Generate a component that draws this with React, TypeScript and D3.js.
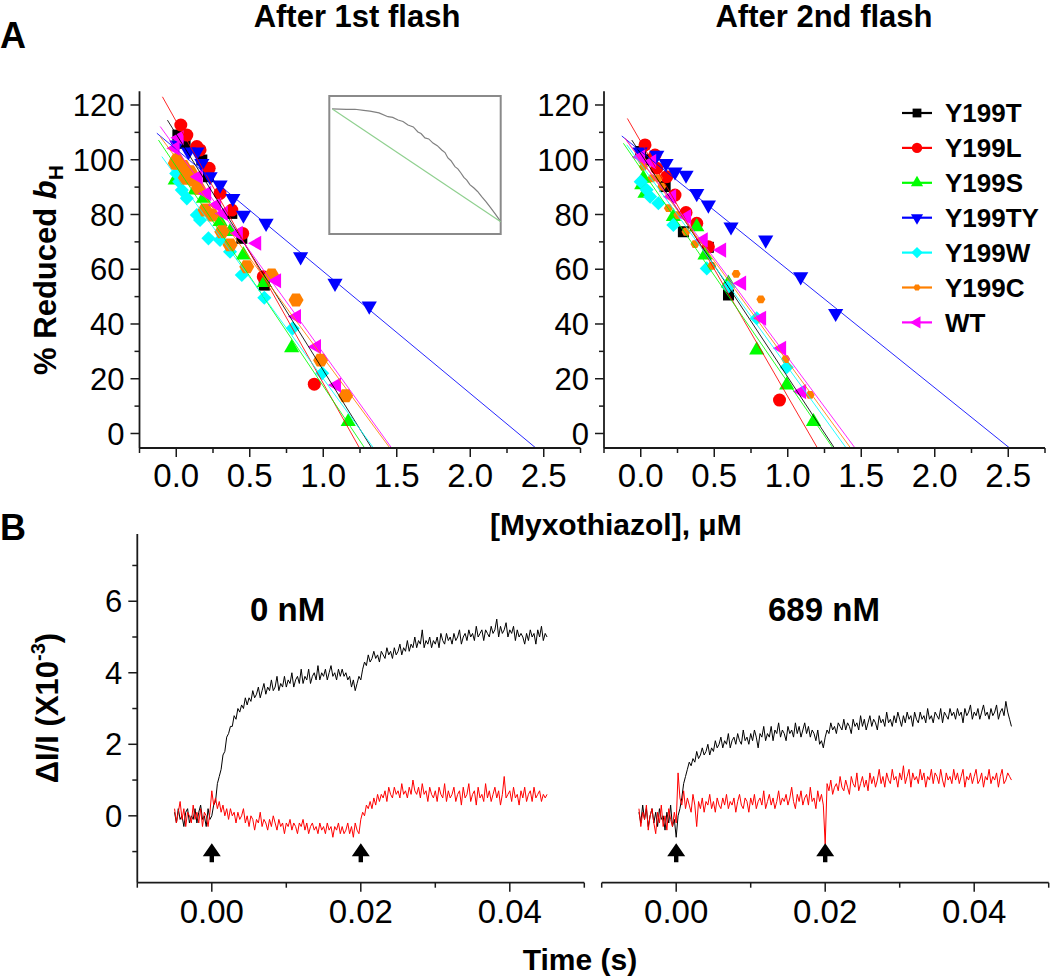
import React from 'react';
import * as d3 from 'd3';

const FONT = "Arial, 'Liberation Sans', Helvetica, sans-serif";

// ---------- Panel A : series ----------
const seriesNames = ['Y199T', 'Y199L', 'Y199S', 'Y199TY', 'Y199W', 'Y199C', 'WT'];
const seriesColors = ['#000000', '#ff0000', '#00ff00', '#0000ff', '#00ffff', '#ff8000', '#ff00ff'];
const seriesShapes = ['square', 'circle', 'triUp', 'triDown', 'diamond', 'hex', 'triLeft'];

// After 1st flash  [myxothiazol µM, % reduced bH]
const flash1_Y199T = [[0.011, 109.0], [0.06, 106.0], [0.174, 99.9], [0.219, 93.8], [0.378, 80.4], [0.446, 71.3], [0.599, 54.2]];
const flash1_Y199L = [[0.031, 112.7], [0.072, 109.0], [0.14, 104.8], [0.162, 103.6], [0.224, 96.9], [0.298, 87.7], [0.378, 81.6], [0.452, 73.1], [0.592, 57.3], [0.939, 18.0]];
const flash1_Y199S = [[-0.007, 92.6], [0.0, 100], [0.03, 97], [0.128, 88.9], [0.185, 85.9], [0.298, 77.4], [0.366, 73.7], [0.457, 65.2], [0.599, 55.1], [0.785, 31.3], [1.17, 4.3]];
const flash1_Y199TY = [[0.004, 105.4], [0.083, 102.9], [0.14, 102.9], [0.174, 98.7], [0.23, 93.8], [0.298, 90.8], [0.385, 85.9], [0.457, 79.8], [0.611, 76.8], [0.846, 64.6], [1.08, 54.9], [1.313, 46.6]];
const flash1_Y199W = [[0.0, 95], [0.02, 92], [0.038, 88.9], [0.072, 85.9], [0.14, 79.8], [0.162, 78.0], [0.219, 71.3], [0.298, 70.7], [0.366, 66.4], [0.446, 57.9], [0.599, 49.6], [0.792, 38.4], [0.993, 22.0]];
const flash1_Y199C = [[0.004, 99.9], [-0.007, 98.7], [0.049, 97.5], [0.094, 95.6], [0.06, 93.2], [0.117, 92.6], [0.151, 89.6], [0.196, 81.6], [0.242, 79.8], [0.31, 73.7], [0.366, 68.9], [0.48, 60.9], [0.649, 57.9], [0.815, 48.8], [0.982, 26.8], [1.152, 13.8]];
const flash1_WT = [[-0.007, 104.2], [0.02, 108], [0.15, 93.8], [0.208, 87.7], [0.276, 83.5], [0.321, 80.4], [0.423, 73.1], [0.548, 69.5], [0.683, 55.8], [0.819, 42.7], [0.955, 31.7], [1.091, 17.7]];

// After 2nd flash
const flash2_Y199T = [[0.0, 103], [0.05, 100], [0.166, 90.2], [0.29, 73.7], [0.46, 68.0], [0.597, 50.6]];
const flash2_Y199L = [[0.029, 105.4], [0.097, 101.7], [0.109, 96.9], [0.177, 93.8], [0.233, 87.1], [0.308, 80.7], [0.381, 76.8], [0.46, 68.2], [0.944, 12.2]];
const flash2_Y199S = [[0.018, 93.2], [0.007, 90.8], [0.029, 87.7], [0.222, 79.2], [0.381, 75.5], [0.437, 65.2], [0.596, 54.9], [0.789, 30.5], [0.993, 17.7], [1.175, 4.3]];
const flash2_Y199TY = [[-0.005, 102.9], [0.109, 101.7], [0.172, 98.7], [0.233, 95.6], [0.308, 94.4], [0.381, 87.7], [0.46, 83.5], [0.614, 75.5], [0.85, 70.7], [1.088, 57.3], [1.326, 43.9]];
const flash2_Y199W = [[0.0, 92], [0.04, 89], [0.064, 86.5], [0.12, 84.1], [0.222, 76.2], [0.449, 60.3], [0.596, 53.6], [0.789, 42.1], [0.993, 24.2]];
const flash2_Y199C = [[0.007, 99.9], [0.018, 97.5], [0.075, 93.2], [0.12, 93.2], [0.143, 90.2], [0.188, 82.3], [0.252, 79.8], [0.308, 73.7], [0.369, 69.2], [0.483, 61.2], [0.649, 58.3], [0.817, 49.0], [0.986, 27.2], [1.152, 14.1]];
const flash2_WT = [[0.0, 101], [0.075, 99.3], [0.211, 86.5], [0.313, 79.2], [0.426, 70.7], [0.551, 67.0], [0.687, 54.9], [0.823, 42.1], [0.959, 31.1], [1.095, 15.3]];

// linear fits: intercept, slope, first x
const fit1Intercept = [109.3, 114.0, 97.5, 103.8, 93.9, 100.5, 104.0];
const fit1Slope = [-86.2, -95.7, -80.2, -44.6, -73.9, -72.8, -74.6];
const fit1Start = [-0.06, -0.094, -0.121, -0.132, -0.098, -0.109, -0.109];
const fit2Intercept = [102.2, 106.6, 96.8, 103.1, 98.4, 99.9, 100.1];
const fit2Slope = [-81.6, -93.1, -78.1, -43.2, -74.2, -73.7, -72.3];
const fit2Start = [-0.061, -0.091, -0.118, -0.129, -0.095, -0.107, -0.107];

// inset (schematic, normalised units)
const insetCurveX = [0.016, 0.1, 0.15, 0.2, 0.237, 0.29, 0.342, 0.37, 0.401, 0.43, 0.459, 0.49, 0.517, 0.535, 0.558, 0.58, 0.605, 0.63, 0.656, 0.675, 0.692, 0.71, 0.733, 0.75, 0.768, 0.785, 0.802, 0.82, 0.844, 0.865, 0.889, 0.915, 0.943, 0.97, 1.0];
const insetCurveY = [0.906, 0.903, 0.904, 0.896, 0.891, 0.878, 0.85, 0.845, 0.826, 0.815, 0.79, 0.776, 0.739, 0.728, 0.696, 0.689, 0.659, 0.64, 0.609, 0.59, 0.551, 0.531, 0.488, 0.472, 0.442, 0.41, 0.391, 0.358, 0.333, 0.308, 0.27, 0.233, 0.188, 0.142, 0.089];
const insetLineX = [0.02, 1.0];
const insetLineY = [0.904, 0.089];

// axis ticks
const aXDomain = [-0.25, 2.75];
const aYDomain = [-5.3, 125];
const aMajorX = [0, 0.5, 1, 1.5, 2, 2.5];
const aMinorX = [-0.25, 0.25, 0.75, 1.25, 1.75, 2.25, 2.75];
const aMajorY = [0, 20, 40, 60, 80, 100, 120];
const aMinorY = [10, 30, 50, 70, 90, 110];

// ---------- Panel B : kinetic traces (ΔI/I ×10^-3), sampled from t = -0.005 s every 0.25 ms ----------
const tStart = -0.005;
const tStep = 0.00025;
const trace0nM_black = [
  0.1, -0.2, 0.2, -0.1, 0.0, -0.3, 0.1, 0.2, -0.2, 0.0,
  -0.1, 0.2, -0.2, 0.1, 0.3, -0.1, 0.0, -0.3, 0.2, -0.1,
  0.0, 0.3, 0.4, 0.9, 1.1, 1.3, 1.7, 1.8, 2.2, 2.3,
  2.5, 2.5, 2.8, 2.7, 3.0, 2.9, 3.1, 3.0, 3.3, 3.1,
  3.3, 3.2, 3.5, 3.3, 3.4, 3.6, 3.3, 3.5, 3.7, 3.4,
  3.6, 3.5, 3.8, 3.5, 3.6, 3.9, 3.5, 3.7, 3.6, 3.9,
  3.6, 3.8, 3.7, 4.0, 3.6, 3.8, 3.9, 3.7, 4.1, 3.7,
  3.9, 3.8, 4.1, 3.7, 3.9, 4.0, 3.8, 4.2, 3.8, 4.0,
  3.9, 4.1, 3.8, 4.0, 4.2, 3.9, 4.0, 3.8, 4.1, 3.9,
  4.1, 3.9, 4.0, 3.8, 3.9, 3.6, 3.8, 3.5, 3.7, 3.9,
  3.8, 4.1, 4.3, 4.2, 4.5, 4.3, 4.4, 4.6, 4.4, 4.5,
  4.3, 4.6, 4.5, 4.4, 4.7, 4.5, 4.6, 4.4, 4.7, 4.5,
  4.6, 4.8, 4.5, 4.7, 4.6, 4.9, 4.6, 4.8, 4.7, 5.0,
  4.7, 4.9, 4.8, 5.2, 4.7, 4.9, 4.8, 5.0, 4.7, 4.9,
  4.8, 5.0, 4.7, 5.1, 4.9, 4.8, 5.1, 4.9, 5.0, 4.8,
  5.1, 4.9, 5.0, 5.2, 4.8, 5.0, 5.1, 4.9, 5.2, 5.0,
  5.1, 4.9, 5.3, 5.0, 5.1, 5.2, 4.9, 5.2, 5.1, 5.0,
  5.3, 5.1, 5.2, 5.5, 5.0, 5.3, 5.1, 5.2, 5.4, 5.0,
  5.2, 5.1, 5.3, 4.9, 5.2, 5.0, 5.1, 5.0, 4.8, 5.1,
  4.9, 5.2, 5.0, 5.1, 4.8, 5.2, 5.0, 5.3, 4.9, 5.1,
  5.0,
];
const trace0nM_red = [
  0.2, -0.2, 0.1, 0.4, -0.1, 0.2, -0.3, 0.1, 0.0, -0.2,
  0.3, -0.1, 0.1, -0.2, 0.2, -0.3, 0.1, 0.0, -0.3, 0.1,
  0.7, 0.3, 0.5, 0.2, 0.4, 0.1, 0.3, 0.0, 0.2, -0.1,
  0.2, 0.0, 0.1, -0.2, 0.1, -0.1, 0.0, 0.2, -0.2, 0.0,
  -0.3, 0.0, -0.1, -0.4, -0.1, -0.2, 0.1, -0.3, -0.1, -0.2,
  -0.4, -0.1, -0.3, 0.0, -0.2, -0.4, -0.1, -0.3, -0.2, -0.5,
  -0.2, -0.3, -0.1, -0.4, -0.2, -0.3, -0.5, -0.2, -0.3, -0.1,
  -0.4, -0.2, -0.5, -0.3, -0.2, -0.4, -0.3, -0.5, -0.2, -0.4,
  -0.3, -0.5, -0.2, -0.4, -0.3, -0.6, -0.3, -0.4, -0.2, -0.5,
  -0.3, -0.5, -0.4, -0.2, -0.5, -0.3, -0.6, -0.2, -0.4, -0.5,
  -0.1, 0.1, 0.0, 0.3, 0.2, 0.4, 0.2, 0.5, 0.3, 0.6,
  0.4, 0.6, 0.5, 0.7, 0.4, 0.8, 0.6, 0.5, 0.8, 0.6,
  0.7, 0.5, 0.9, 0.6, 0.7, 0.5, 0.8, 0.6, 1.0, 0.7,
  0.6, 0.8, 0.5, 0.9, 0.6, 0.7, 0.4, 0.8, 0.6, 0.5,
  0.7, 0.4, 0.8, 0.6, 0.5, 0.9, 0.4, 0.7, 0.5, 0.6,
  0.8, 0.4, 0.6, 0.7, 0.3, 0.8, 0.5, 0.6, 0.9, 0.4,
  0.6, 0.7, 0.3, 0.8, 0.5, 0.6, 0.4, 0.9, 0.5, 0.7,
  0.4, 0.6, 0.8, 0.5, 0.7, 0.3, 0.6, 1.1, 0.5, 0.6,
  0.7, 0.4, 0.8, 0.5, 0.6, 0.3, 0.7, 0.5, 0.8, 0.4,
  0.6, 0.7, 0.4, 0.8, 0.5, 0.6, 0.7, 0.4, 0.6, 0.5,
  0.6,
];
const trace689nM_black = [
  0.1, -0.2, 0.3, -0.1, 0.2, -0.3, 0.0, 0.2, -0.2, 0.1,
  -0.3, 0.2, -0.1, 0.0, -0.4, 0.1, -0.2, 0.3, -0.3, -0.1,
  -0.6, 0.0, 0.2, 0.5, 0.9, 1.1, 1.3, 1.5, 1.4, 1.6,
  1.5, 1.8, 1.6, 1.7, 1.9, 1.7, 1.8, 2.0, 1.7, 1.9,
  1.8, 2.1, 1.9, 2.0, 2.2, 1.9, 2.1, 2.0, 2.3, 1.9,
  2.1, 2.2, 2.0, 2.3, 2.1, 2.0, 2.4, 2.1, 2.2, 2.0,
  2.3, 2.1, 2.4, 2.2, 1.9, 2.3, 2.2, 2.5, 2.1, 2.3,
  2.2, 2.5, 2.1, 2.4, 2.3, 2.6, 2.2, 2.4, 2.3, 2.1,
  2.5, 2.3, 2.4, 2.2, 2.6, 2.3, 2.5, 2.2, 2.4, 2.6,
  2.3, 2.5, 2.2, 2.4, 2.3, 2.1, 2.4, 2.0, 2.1, 1.9,
  2.2, 2.4, 2.3, 2.6, 2.4, 2.5, 2.3, 2.6, 2.5, 2.4,
  2.7, 2.4, 2.6, 2.5, 2.3, 2.7, 2.5, 2.6, 2.4, 2.8,
  2.5, 2.7, 2.4, 2.6, 2.8, 2.5, 2.7, 2.6, 2.4, 2.8,
  2.6, 2.7, 2.5, 2.9, 2.6, 2.7, 2.5, 2.8, 2.6, 2.9,
  2.7, 2.5, 2.8, 2.6, 2.9, 2.7, 2.8, 2.5, 2.9, 2.7,
  2.6, 2.9, 2.7, 2.8, 2.6, 3.0, 2.7, 2.8, 2.6, 2.9,
  2.8, 2.7, 3.0, 2.6, 2.9, 2.8, 2.7, 3.0, 2.8, 2.9,
  2.7, 3.0, 2.8, 2.9, 2.6, 3.0, 2.8, 2.9, 3.1, 2.7,
  2.9, 2.8, 3.0, 2.7, 2.9, 3.1, 2.8, 2.9, 2.7, 3.0,
  2.8, 2.9, 3.1, 2.7, 2.9, 3.0, 2.8, 3.2, 2.9, 2.7,
  2.5,
];
const trace689nM_red = [
  0.2, -0.3, 0.1, -0.1, 0.3, -0.4, 0.0, 0.2, -0.2, -0.5,
  0.1, -0.2, 0.3, -0.3, 0.0, -0.4, 0.2, -0.1, -0.3, 0.1,
  -0.2, 1.2, 0.5, 0.3, 0.7, 0.2, 0.5, 0.3, 0.1, 0.6,
  0.3, -0.3, 0.4, 0.2, 0.5, 0.1, 0.4, 0.3, 0.6, 0.2,
  0.4, 0.1, 0.5, 0.3, 0.2, 0.5, 0.3, 0.6, 0.2, 0.4,
  0.3, 0.5, 0.1, 0.4, 0.6, 0.3, 0.2, 0.5, 0.4, 0.1,
  0.5, 0.3, 0.6, 0.2, 0.4, 0.5, 0.3, 0.7, 0.2, 0.4,
  0.6, 0.3, 0.5, 0.2, 0.4, 0.7, 0.3, 0.5, 0.4, 0.6,
  0.3, 0.5, 0.8, 0.4, 0.2, 0.6, 0.4, 0.7, 0.3, 0.5,
  0.6, 0.3, 0.8, 0.4, 0.5, 0.2, 0.7, 0.4, 0.6, 0.3,
  -0.8, 0.9, 0.7, 1.0, 0.6, 0.8, 0.9, 0.7, 1.1, 0.8,
  0.7, 1.0, 0.8, 0.6, 1.1, 0.9, 0.8, 1.2, 0.7, 0.9,
  1.1, 0.8, 1.0, 0.7, 1.2, 0.9, 1.1, 0.8, 1.0, 1.3,
  0.9, 1.1, 0.8, 1.2, 1.0, 0.9, 1.3, 1.0, 1.1, 0.8,
  1.2, 1.0, 1.4, 0.9, 1.1, 1.3, 0.8, 1.2, 1.0, 1.1,
  0.9, 1.3, 1.0, 1.2, 0.8, 1.1, 1.0, 1.3, 0.9, 1.2,
  1.1, 0.9, 1.3, 1.0, 0.8, 1.2, 1.0, 1.1, 0.9, 1.3,
  1.0, 1.2, 0.9, 1.1, 1.3, 0.8, 1.1, 1.0, 1.2, 0.9,
  1.1, 1.3, 0.9, 1.0, 1.2, 0.8, 1.1, 1.0, 1.3, 0.9,
  1.1, 1.0, 1.2, 0.8, 1.1, 1.3, 0.9, 1.0, 1.2, 1.1,
  1.0,
];
const flashTimes = [0, 0.02];
const arrowTipValue = -0.77;

const bXDomain = [-0.01, 0.05];
const bYDomain = [-1.87, 7.88];
const bMajorX = [0, 0.02, 0.04];
const bMinorX = [-0.01, 0.01, 0.03, 0.05];
const bMajorY = [0, 2, 4, 6];
const bMinorY = [-1, 1, 3, 5, 7];

const AX = '#1a1a1a';

function hexPath(r: number) {
  const pts = d3.range(6).map((k) => [r * Math.cos((Math.PI / 3) * k), r * Math.sin((Math.PI / 3) * k)]);
  return 'M' + pts.map((p) => p.join(',')).join('L') + 'Z';
}

function Marker({ shape, x, y, color, s = 1, hexR = 7.5 }: any) {
  const tr = `translate(${x},${y})`;
  if (shape === 'circle') return <circle cx={x} cy={y} r={6.5 * s} fill={color} />;
  if (shape === 'square') {
    const a = 11 * s;
    return <rect x={x - a / 2} y={y - a / 2} width={a} height={a} fill={color} />;
  }
  if (shape === 'hex') return <path d={hexPath(hexR * s)} transform={tr} fill={color} />;
  if (shape === 'diamond') {
    const d = d3.symbol(d3.symbolSquare, 100 * s * s)() as string;
    return <path d={d} transform={`${tr} rotate(45)`} fill={color} />;
  }
  const tri = d3.symbol(d3.symbolTriangle, 100 * s * s)() as string;
  const rot = shape === 'triUp' ? 0 : shape === 'triDown' ? 180 : -90;
  return <path d={tri} transform={`${tr} rotate(${rot})`} fill={color} />;
}

function LeftAxis({ scale, x, major, minor, fmt, fs = 31 }: any) {
  const [b, t] = scale.range();
  return (
    <g>
      <line x1={x} x2={x} y1={b} y2={t} stroke={AX} strokeWidth={1.8} />
      {minor.map((v: number) => (
        <line key={'m' + v} x1={x - 5} x2={x} y1={scale(v)} y2={scale(v)} stroke={AX} strokeWidth={1.5} />
      ))}
      {major.map((v: number) => (
        <g key={'M' + v}>
          <line x1={x - 9} x2={x} y1={scale(v)} y2={scale(v)} stroke={AX} strokeWidth={1.5} />
          <text x={x - 15} y={scale(v)} dy="0.36em" textAnchor="end" fontSize={fs}>
            {fmt(v)}
          </text>
        </g>
      ))}
    </g>
  );
}

function BottomAxis({ scale, y, major, minor, fmt, labelDy, fs = 33 }: any) {
  const [l, r] = scale.range();
  return (
    <g>
      <line x1={l} x2={r} y1={y} y2={y} stroke={AX} strokeWidth={1.8} />
      {minor.map((v: number) => (
        <line key={'m' + v} x1={scale(v)} x2={scale(v)} y1={y} y2={y + 5} stroke={AX} strokeWidth={1.5} />
      ))}
      {major.map((v: number) => (
        <g key={'M' + v}>
          <line x1={scale(v)} x2={scale(v)} y1={y} y2={y + 9} stroke={AX} strokeWidth={1.5} />
          <text x={scale(v)} y={y + labelDy} textAnchor="middle" fontSize={fs}>
            {fmt(v)}
          </text>
        </g>
      ))}
    </g>
  );
}

function PlotA({ x0, series, intercepts, slopes, starts, hexR, inset }: any) {
  const xs = d3.scaleLinear().domain(aXDomain).range([x0, x0 + 441]);
  const ys = d3.scaleLinear().domain(aYDomain).range([448, 91.3]);
  const line = d3.line<number[]>().x((d) => xs(d[0])).y((d) => ys(d[1]));
  const yMin = aYDomain[0];
  const ix = d3.scaleLinear().domain([0, 1]).range([329.3, 500.7]);
  const iy = d3.scaleLinear().domain([0, 1]).range([234, 96]);
  const iline = d3.line<number>().x((d, i) => ix(insetCurveX[i])).y((d) => iy(d));
  return (
    <g>
      {series.map((pts: number[][], si: number) => (
        <g key={'s' + si}>
          {pts.map((p, k) => (
            <Marker key={k} shape={seriesShapes[si]} x={xs(p[0])} y={ys(p[1])} color={seriesColors[si]} hexR={hexR} />
          ))}
        </g>
      ))}
      {intercepts.map((b: number, si: number) => {
        const x1 = starts[si];
        const x2 = (yMin - b) / slopes[si];
        const d = line([
          [x1, b + slopes[si] * x1],
          [x2, yMin],
        ]) as string;
        return <path key={'f' + si} d={d} stroke={seriesColors[si]} strokeWidth={1} fill="none" opacity={0.85} />;
      })}
      {inset && (
        <g>
          <rect x={ix(0)} y={iy(1)} width={ix(1) - ix(0)} height={iy(0) - iy(1)} fill="#fff" stroke="#8a8a8a" strokeWidth={2} />
          <path d={iline(insetCurveY) as string} fill="none" stroke="#808080" strokeWidth={1.2} />
          <line x1={ix(insetLineX[0])} y1={iy(insetLineY[0])} x2={ix(insetLineX[1])} y2={iy(insetLineY[1])} stroke="#8fd08f" strokeWidth={1.2} />
        </g>
      )}
      <LeftAxis scale={ys} x={x0} major={aMajorY} minor={aMinorY} fmt={(v: number) => String(v)} />
      <BottomAxis scale={xs} y={448} major={aMajorX} minor={aMinorX} fmt={d3.format('.1f')} labelDy={39} />
    </g>
  );
}

function PlotB({ x0, black, red, yAxis, label, labelX }: any) {
  const xs = d3.scaleLinear().domain(bXDomain).range([x0, x0 + 447]);
  const ys = d3.scaleLinear().domain(bYDomain).range([882.7, 534]);
  const line = d3
    .line<number>()
    .x((d, i) => xs(tStart + i * tStep))
    .y((d) => ys(d));
  return (
    <g>
      <path d={line(black) as string} fill="none" stroke="#000" strokeWidth={1} />
      <path d={line(red) as string} fill="none" stroke="#ff0000" strokeWidth={1} />
      {flashTimes.map((t) => {
        const ax = xs(t);
        const ay = ys(arrowTipValue);
        return (
          <path
            key={t}
            d={`M${ax},${ay} L${ax + 9},${ay + 13} L${ax + 2.2},${ay + 13} L${ax + 2.2},${ay + 19} L${ax - 2.2},${ay + 19} L${ax - 2.2},${ay + 13} L${ax - 9},${ay + 13} Z`}
            fill="#000"
          />
        );
      })}
      {yAxis && <LeftAxis scale={ys} x={x0} major={bMajorY} minor={bMinorY} fmt={(v: number) => String(v)} />}
      <BottomAxis scale={xs} y={882.7} major={bMajorX} minor={bMinorX} fmt={d3.format('.2f')} labelDy={40} />
      <text x={labelX} y={621} fontSize={33} fontWeight="bold">
        {label}
      </text>
    </g>
  );
}

export default function App() {
  const flash1 = [flash1_Y199T, flash1_Y199L, flash1_Y199S, flash1_Y199TY, flash1_Y199W, flash1_Y199C, flash1_WT];
  const flash2 = [flash2_Y199T, flash2_Y199L, flash2_Y199S, flash2_Y199TY, flash2_Y199W, flash2_Y199C, flash2_WT];
  return (
    <svg
      width={1050}
      height={978}
      style={{ position: 'absolute', left: 0, top: 0, background: '#fff' }}
      fontFamily={FONT}
    >
      <rect width={1050} height={978} fill="#fff" />
      <text x={0} y={48} fontSize={36} fontWeight="bold">A</text>
      <text x={0} y={540} fontSize={36} fontWeight="bold">B</text>
      <text x={357} y={27} fontSize={31} fontWeight="bold" textAnchor="middle">After 1st flash</text>
      <text x={824} y={27} fontSize={31} fontWeight="bold" textAnchor="middle">After 2nd flash</text>

      <PlotA x0={139.5} series={flash1} intercepts={fit1Intercept} slopes={fit1Slope} starts={fit1Start} hexR={7.5} inset />
      <PlotA x0={604} series={flash2} intercepts={fit2Intercept} slopes={fit2Slope} starts={fit2Start} hexR={4.5} />

      {/* legend */}
      <g>
        {seriesNames.map((n, i) => {
          const y = 113 + i * 34.9;
          return (
            <g key={n}>
              <line x1={902} x2={932} y1={y} y2={y} stroke={seriesColors[i]} strokeWidth={2.2} />
              <Marker shape={seriesShapes[i]} x={917} y={y} color={seriesColors[i]} s={0.8} hexR={4.5} />
              <text x={945} y={y} dy="0.36em" fontSize={26} fontWeight="bold">{n}</text>
            </g>
          );
        })}
      </g>

      <text x={490} y={535} fontSize={30} fontWeight="bold">[Myxothiazol], μM</text>
      <text transform="translate(56,270) rotate(-90)" fontSize={31} fontWeight="bold" textAnchor="middle">
        % Reduced <tspan fontStyle="italic">b</tspan>
        <tspan fontSize={21} dy={7}>H</tspan>
      </text>

      <PlotB x0={137.3} black={trace0nM_black} red={trace0nM_red} yAxis label="0 nM" labelX={250} />
      <PlotB x0={601.7} black={trace689nM_black} red={trace689nM_red} yAxis={false} label="689 nM" labelX={768} />

      <text x={580} y={970} fontSize={30} fontWeight="bold" textAnchor="middle">Time (s)</text>
      <text transform="translate(58,708) rotate(-90)" fontSize={31} fontWeight="bold" textAnchor="middle">
        ΔI/I (X10<tspan fontSize={20} dy={-13}>-3</tspan>
        <tspan dy={13}>)</tspan>
      </text>
    </svg>
  );
}
